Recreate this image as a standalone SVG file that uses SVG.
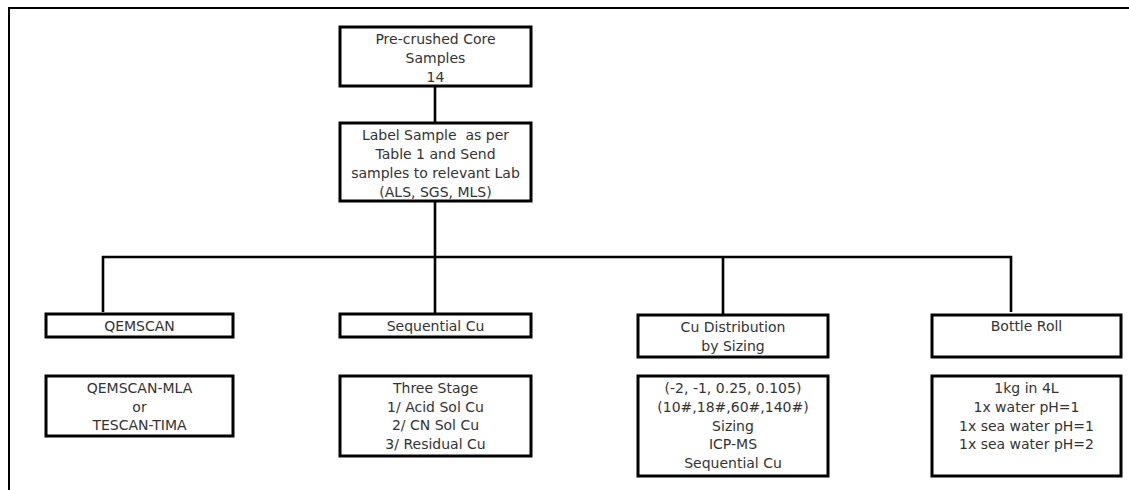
<svg xmlns="http://www.w3.org/2000/svg" width="1129" height="490" viewBox="0 0 1129 490">
  <style>
    .box { fill: #ffffff; stroke: #000000; stroke-width: 3; }
    .wire { fill: none; stroke: #000000; stroke-width: 2.6; stroke-linejoin: miter; }
    .frame { fill: none; stroke: #000000; stroke-width: 2; }
    text { font-family: "DejaVu Sans", Verdana, sans-serif; font-size: 14px; fill: #333333; text-anchor: middle; white-space: pre; }
  </style>
  <rect width="1129" height="490" fill="#ffffff"/>

  <!-- page frame -->
  <path class="frame" d="M9,490 V8 H1129"/>

  <!-- connectors -->
  <g id="connectors">
    <path class="wire" d="M435,86 V123"/>
    <path class="wire" d="M435,201 V314"/>
    <path class="wire" d="M103,312 V257 H1011 V312"/>
    <path class="wire" d="M723,257 V315"/>
  </g>

  <g id="precrushed">
    <rect class="box" x="340" y="27" width="191" height="59"/>
    <text x="435.5" y="44">Pre-crushed Core</text>
    <text x="435.5" y="63">Samples</text>
    <text x="435.5" y="82">14</text>
  </g>

  <g id="label-sample">
    <rect class="box" x="340" y="123" width="191" height="78"/>
    <text x="435.5" y="140">Label Sample  as per</text>
    <text x="435.5" y="159">Table 1 and Send</text>
    <text x="435.5" y="178">samples to relevant Lab</text>
    <text x="435.5" y="197">(ALS, SGS, MLS)</text>
  </g>

  <g id="qemscan">
    <rect class="box" x="46" y="314" width="187" height="23"/>
    <text x="139.5" y="331">QEMSCAN</text>
  </g>

  <g id="qemscan-detail">
    <rect class="box" x="46" y="376" width="187" height="60"/>
    <text x="139.5" y="393">QEMSCAN-MLA</text>
    <text x="139.5" y="411.5">or</text>
    <text x="139.5" y="430">TESCAN-TIMA</text>
  </g>

  <g id="sequential">
    <rect class="box" x="340" y="314" width="191" height="23"/>
    <text x="435.5" y="331">Sequential Cu</text>
  </g>

  <g id="sequential-detail">
    <rect class="box" x="340" y="376" width="191" height="80"/>
    <text x="435.5" y="393">Three Stage</text>
    <text x="435.5" y="411.5">1/ Acid Sol Cu</text>
    <text x="435.5" y="430">2/ CN Sol Cu</text>
    <text x="435.5" y="448.5">3/ Residual Cu</text>
  </g>

  <g id="cu-distribution">
    <rect class="box" x="638" y="315" width="190" height="42"/>
    <text x="733" y="332">Cu Distribution</text>
    <text x="733" y="351">by Sizing</text>
  </g>

  <g id="cu-distribution-detail">
    <rect class="box" x="638" y="376" width="190" height="100"/>
    <text x="733" y="393">(-2, -1, 0.25, 0.105)</text>
    <text x="733" y="412">(10#,18#,60#,140#)</text>
    <text x="733" y="430.5">Sizing</text>
    <text x="733" y="449">ICP-MS</text>
    <text x="733" y="468">Sequential Cu</text>
  </g>

  <g id="bottle-roll">
    <rect class="box" x="932" y="315" width="189" height="42"/>
    <text x="1026.5" y="331">Bottle Roll</text>
  </g>

  <g id="bottle-roll-detail">
    <rect class="box" x="932" y="376" width="189" height="100"/>
    <text x="1026.5" y="393">1kg in 4L</text>
    <text x="1026.5" y="412">1x water pH=1</text>
    <text x="1026.5" y="430.5">1x sea water pH=1</text>
    <text x="1026.5" y="449">1x sea water pH=2</text>
  </g>
</svg>
